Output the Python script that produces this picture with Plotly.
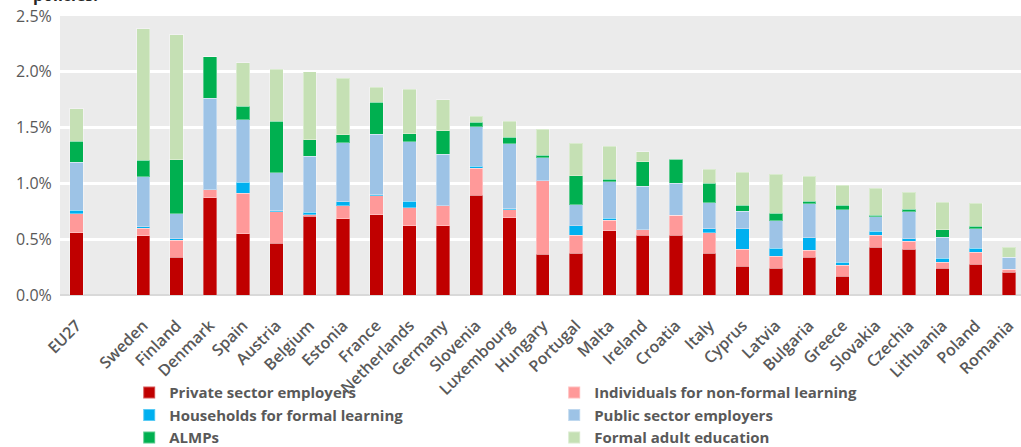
import plotly.graph_objects as go

categories = ["EU27", " ", "Sweden", "Finland", "Denmark", "Spain", "Austria", "Belgium",
              "Estonia", "France", "Netherlands", "Germany", "Slovenia", "Luxembourg",
              "Hungary", "Portugal", "Malta", "Ireland", "Croatia", "Italy", "Cyprus",
              "Latvia", "Bulgaria", "Greece", "Slovakia", "Czechia", "Lithuania",
              "Poland", "Romania"]

private_sector = [0.558, None, 0.53, 0.34, 0.87, 0.55, 0.465, 0.707, 0.684, 0.72, 0.621,
                  0.621, 0.893, 0.693, 0.366, 0.375, 0.576, 0.537, 0.537, 0.373, 0.256,
                  0.238, 0.34, 0.166, 0.429, 0.411, 0.238, 0.274, 0.205]
individuals_nonformal = [0.17, None, 0.066, 0.15, 0.075, 0.36, 0.28, 0.01, 0.116, 0.17,
                         0.162, 0.18, 0.242, 0.07, 0.656, 0.16, 0.096, 0.048, 0.177, 0.185,
                         0.155, 0.108, 0.062, 0.099, 0.108, 0.072, 0.054, 0.11, 0.027]
households_formal = [0.03, None, 0.015, 0.015, 0.0, 0.10, 0.01, 0.025, 0.037, 0.01, 0.056,
                     0.0, 0.02, 0.01, 0.0, 0.085, 0.015, 0.0, 0.0, 0.036, 0.183, 0.074,
                     0.111, 0.027, 0.033, 0.021, 0.038, 0.036, 0.0]
public_sector = [0.43, None, 0.45, 0.225, 0.82, 0.56, 0.34, 0.50, 0.526, 0.541, 0.533,
                 0.46, 0.354, 0.583, 0.21, 0.19, 0.33, 0.39, 0.287, 0.234, 0.156, 0.246,
                 0.305, 0.473, 0.129, 0.243, 0.189, 0.174, 0.107]
almps = [0.19, None, 0.146, 0.48, 0.37, 0.12, 0.46, 0.15, 0.075, 0.285, 0.075, 0.21,
         0.038, 0.057, 0.02, 0.26, 0.018, 0.218, 0.215, 0.173, 0.053, 0.066, 0.021,
         0.038, 0.015, 0.02, 0.066, 0.021, 0.0]
formal_adult = [0.29, None, 1.18, 1.12, 0.0, 0.39, 0.47, 0.607, 0.505, 0.135, 0.398, 0.28,
                0.054, 0.143, 0.234, 0.29, 0.30, 0.09, 0.0, 0.126, 0.297, 0.35, 0.225,
                0.18, 0.242, 0.153, 0.245, 0.206, 0.09]

series_names = ["Private sector employers", "Individuals for non-formal learning",
                "Households for formal learning", "Public sector employers",
                "ALMPs", "Formal adult education"]
series_values = [private_sector, individuals_nonformal, households_formal,
                 public_sector, almps, formal_adult]
series_colors = ["#C00000", "#FF9999", "#00B0F0", "#9DC3E6", "#00B050", "#C5E0B4"]

y_tickvals = [0.0, 0.5, 1.0, 1.5, 2.0, 2.5]
y_ticktext = ["0.0%", "0.5%", "1.0%", "1.5%", "2.0%", "2.5%"]

fig = go.Figure()
for name, vals, col in zip(series_names, series_values, series_colors):
    fig.add_trace(go.Bar(
        x=categories, y=vals, name=name,
        marker=dict(color=col, line=dict(color="rgba(255,255,255,0.35)", width=1)),
        width=0.4,
    ))

fig.update_layout(
    barmode="stack",
    width=1021, height=447,
    margin=dict(l=60, r=0, t=16, b=152, autoexpand=False),
    paper_bgcolor="white",
    plot_bgcolor="#EBEBEB",
    font=dict(family="Open Sans, Noto Sans, sans-serif", color="#595959"),
    showlegend=True,
    legend=dict(
        orientation="h",
        x=0.072, xanchor="left",
        y=-0.571, yanchor="bottom",
        entrywidth=380, entrywidthmode="pixels",
        font=dict(size=15, color="#595959", weight="bold"),
        itemsizing="constant",
        tracegroupgap=0,
        bgcolor="rgba(0,0,0,0)",
        traceorder="normal",
    ),
    annotations=[dict(
        text="<b>policies.</b>", xref="paper", yref="paper",
        x=-0.03, y=1.03, xanchor="left", yanchor="bottom",
        showarrow=False, font=dict(size=16, color="#262626"),
    )],
)

fig.update_xaxes(
    type="category",
    categoryorder="array", categoryarray=categories,
    range=[-0.5, 28.36],
    tickangle=-45,
    tickfont=dict(size=16, color="#595959", weight=600),
    showgrid=False,
    showline=False,
    ticks="outside", ticklen=14, tickcolor="rgba(0,0,0,0)",
    automargin=False,
)
fig.update_yaxes(
    range=[0, 2.5],
    tickvals=y_tickvals, ticktext=y_ticktext,
    tickfont=dict(size=16, color="#595959"),
    showgrid=True, gridcolor="white", gridwidth=3,
    zeroline=True, zerolinecolor="#D9D9D9", zerolinewidth=2,
    ticks="outside", ticklen=4, tickcolor="rgba(0,0,0,0)",
    showline=False,
    automargin=False,
)

fig.write_html("out.html", config={"displayModeBar": False},
               post_script="document.body.style.margin='0px';")
